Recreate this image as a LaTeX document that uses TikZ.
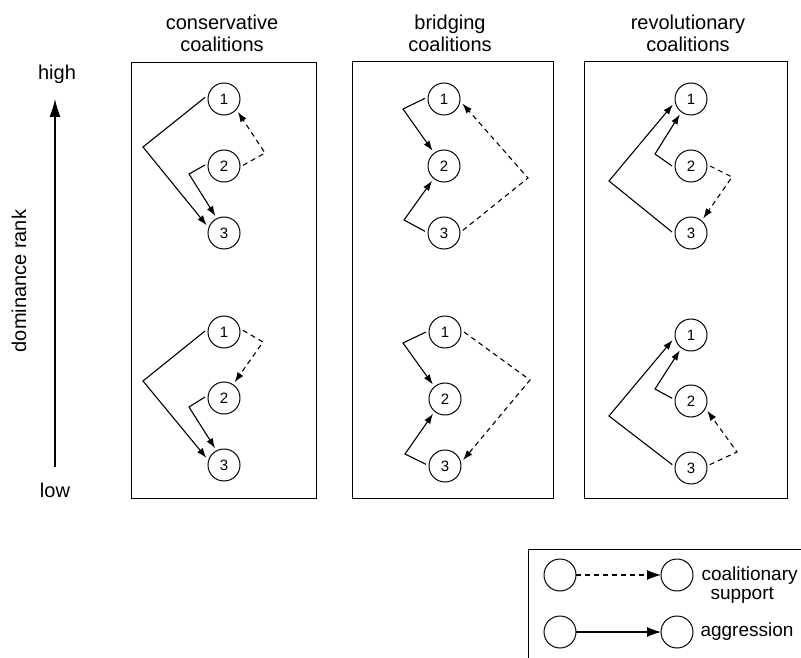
\documentclass[tikz,border=0pt]{standalone}
\usepackage{fontspec}
\setmainfont{Liberation Sans}
\usetikzlibrary{arrows.meta}
\tikzset{ind/.style={circle, draw=black, line width=1pt, minimum size=32pt, inner sep=0pt, outer sep=3pt, font=\fontsize{15}{15}\selectfont},
	aggr/.style={line width=1.1pt, -{Latex[length=10pt,width=7pt]}},
	supp/.style={aggr, dash pattern=on 5pt off 4pt},
	panel/.style={draw=black, line width=1pt}}

\begin{document}
\begin{tikzpicture}[x=1pt,y=-1pt,font=\fontsize{20}{22}\selectfont]
	\useasboundingbox (0,0) rectangle (801,658);
	
	% axis
	\node (high) at (57,74) {high};
	\node (low) at (55,490) {low};
	\coordinate (axbot) at (55,467);
	\coordinate (axtop) at (55,99);
	\draw [line width=1.1pt,-{Latex[length=18pt,width=11pt]}] (axbot) -- (axtop);
	\node [rotate=90] (rank) at (19,281) {dominance rank};
	
	% titles
	\node [align=center] (tcons) at (222,33) {conservative\\coalitions};
	\node [align=center] (tbrid) at (450,33) {bridging\\coalitions};
	\node [align=center] (trevo) at (688,33) {revolutionary\\coalitions};
	
	% panels
	\draw [panel] (131,63) rectangle (316,498);
	\draw [panel] (352,62) rectangle (553,498);
	\draw [panel] (584,62) rectangle (787,498);
	
	% conservative, top
	\node [ind] (ca1) at (224,99) {1};
	\node [ind] (ca2) at (224,166) {2};
	\node [ind] (ca3) at (224,233) {3};
	\coordinate (ka13) at (143,147);
	\coordinate (ka23) at (189,174);
	\coordinate (ka21) at (265,153);
	\draw [aggr] (ca1.175) -- (ka13) -- (ca3.156);
	\draw [aggr] (ca2.177) -- (ka23) -- (ca3.117);
	\draw [supp] (ca2.2) -- (ka21) -- (ca1.-43);
	% conservative, bottom
	\node [ind] (cb1) at (224,332) {1};
	\node [ind] (cb2) at (224,398) {2};
	\node [ind] (cb3) at (224,465) {3};
	\coordinate (kb13) at (143,381);
	\coordinate (kb23) at (189,407);
	\coordinate (kb12) at (263,342);
	\draw [aggr] (cb1.177) -- (kb13) -- (cb3.158);
	\draw [aggr] (cb2.177) -- (kb23) -- (cb3.118);
	\draw [supp] (cb1.5) -- (kb12) -- (cb2.56);
	
	% bridging, top
	\node [ind] (ba1) at (444,99) {1};
	\node [ind] (ba2) at (444,166) {2};
	\node [ind] (ba3) at (444,233) {3};
	\coordinate (la12) at (403,109);
	\coordinate (la32) at (404,220);
	\coordinate (la31) at (528,178);
	\draw [aggr] (ba1.178) -- (la12) -- (ba2.127);
	\draw [aggr] (ba3.175) -- (la32) -- (ba2.231);
	\draw [supp] (ba3.8) -- (la31) -- (ba1.-14);
	% bridging, bottom
	\node [ind] (bb1) at (445,332) {1};
	\node [ind] (bb2) at (445,399) {2};
	\node [ind] (bb3) at (445,466) {3};
	\coordinate (lb12) at (403,343);
	\coordinate (lb32) at (405,454);
	\coordinate (lb13) at (530,380);
	\draw [aggr] (bb1.180) -- (lb12) -- (bb2.130);
	\draw [aggr] (bb3.175) -- (lb32) -- (bb2.231);
	\draw [supp] (bb1.0) -- (lb13) -- (bb3.18);
	
	% revolutionary, top
	\node [ind] (ra1) at (691,99) {1};
	\node [ind] (ra2) at (691,166) {2};
	\node [ind] (ra3) at (691,233) {3};
	\coordinate (ma31) at (609,181);
	\coordinate (ma21) at (655,154);
	\coordinate (ma23) at (732,177);
	\draw [aggr] (ra3.177) -- (ma31) -- (ra1.197);
	\draw [aggr] (ra2.180) -- (ma21) -- (ra1.234);
	\draw [supp] (ra2.0) -- (ma23) -- (ra3.50);
	% revolutionary, bottom
	\node [ind] (rb1) at (691,335) {1};
	\node [ind] (rb2) at (691,401) {2};
	\node [ind] (rb3) at (691,468) {3};
	\coordinate (mb31) at (609,416);
	\coordinate (mb21) at (655,389);
	\coordinate (mb32) at (737,452);
	\draw [aggr] (rb3.170) -- (mb31) -- (rb1.195);
	\draw [aggr] (rb2.172) -- (mb21) -- (rb1.234);
	\draw [supp] (rb3.10) -- (mb32) -- (rb2.-31);
	
	% legend
	\draw [panel] (528,549) rectangle (812,670);
	\node [ind,outer sep=0pt] (lsa) at (560,575) {};
	\node [ind,outer sep=0pt] (lsb) at (677,575) {};
	\node [ind,outer sep=0pt] (laa) at (560,632) {};
	\node [ind,outer sep=0pt] (lab) at (677,632) {};
	\draw [supp,-{Latex[length=14pt,width=10pt]}] (lsa.east) -- (lsb.west);
	\draw [aggr,-{Latex[length=14pt,width=10pt]}] (laa.east) -- (lab.west);
	\node [anchor=base west,font=\fontsize{19}{21}\selectfont] (lcoal) at (698,580) {coalitionary};
	\node [anchor=base west,font=\fontsize{19}{21}\selectfont] (lsupp) at (707,599) {support};
	\node [anchor=west,font=\fontsize{19}{21}\selectfont] (laggr) at (697,632) {aggression};
\end{tikzpicture}
\end{document}
